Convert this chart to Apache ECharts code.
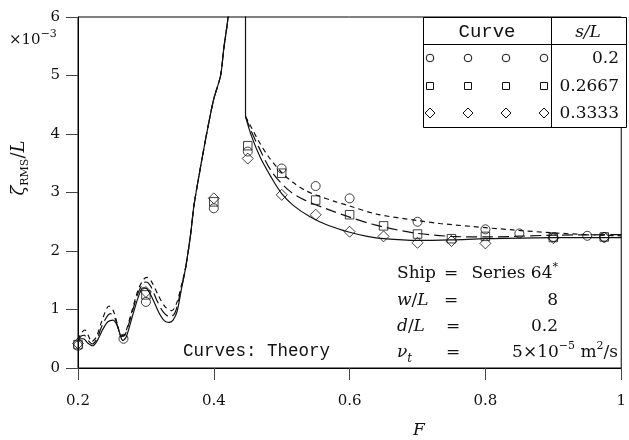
<!DOCTYPE html>
<html>
<head>
<meta charset="utf-8">
<script src="https://cdn.jsdelivr.net/npm/echarts@6/dist/echarts.min.js"></script>
<style>
html,body{margin:0;padding:0;background:#fff}
#chart{width:629px;height:440px}
</style>
</head>
<body>
<div id="chart"></div>
<script>
// Axis tick labels
const xTickLabels = ['0.2', '0.4', '0.6', '0.8', '1'];
const yTickLabels = ['0', '1', '2', '3', '4', '5', '6'];

// Channel spacing values listed in the key
const spacingLabels = ['0.2', '0.2667', '0.3333'];

// Theory, below the critical speed: [F, zeta_RMS/L x 1e3]
const thyLow020 = [[0.2,0.48],[0.205,0.6],[0.21,0.65],[0.215,0.56],[0.22,0.45],[0.227,0.53],[0.235,0.8],[0.2457,1.06],[0.252,0.98],[0.258,0.75],[0.2637,0.55],[0.269,0.58],[0.278,0.92],[0.289,1.35],[0.297,1.52],[0.3016,1.55],[0.308,1.48],[0.318,1.25],[0.328,1.05],[0.338,0.98],[0.345,1.1],[0.352,1.4],[0.3587,1.73]];
const thyLow027 = [[0.2,0.46],[0.205,0.55],[0.209,0.56],[0.215,0.47],[0.221,0.41],[0.228,0.5],[0.236,0.74],[0.2477,0.93],[0.254,0.86],[0.26,0.65],[0.2637,0.54],[0.269,0.56],[0.278,0.88],[0.288,1.27],[0.296,1.45],[0.3,1.47],[0.307,1.4],[0.316,1.16],[0.326,0.95],[0.336,0.87],[0.343,0.95],[0.35,1.25],[0.3587,1.73]];
const thyLow033 = [[0.2,0.45],[0.204,0.5],[0.208,0.5],[0.214,0.43],[0.2215,0.38],[0.228,0.46],[0.236,0.65],[0.244,0.79],[0.2516,0.82],[0.258,0.72],[0.263,0.53],[0.266,0.47],[0.271,0.53],[0.28,0.88],[0.289,1.22],[0.2955,1.37],[0.301,1.36],[0.31,1.18],[0.319,0.95],[0.327,0.81],[0.334,0.78],[0.34,0.82],[0.346,0.97],[0.352,1.33],[0.3587,1.73]];
// Common steep rise towards the resonance
const thyRise = [[0.366,2.3],[0.3708,2.78],[0.383,3.6],[0.3927,4.2],[0.4,4.6],[0.41,5.0],[0.4146,5.45],[0.421,6.0],[0.425,6.6]];
// Return from the resonance
const thyJump = [[0.4467,6.6],[0.4467,4.3]];
// Theory, above the critical speed
const thyHigh020 = [[0.4467,4.3],[0.455,4.12],[0.466,3.88],[0.48,3.62],[0.5,3.34],[0.517,3.17],[0.534,3.04],[0.55,2.96],[0.58,2.84],[0.6,2.77],[0.64,2.63],[0.7,2.52],[0.733,2.47],[0.78,2.42],[0.84,2.36],[0.9,2.31],[0.95,2.28],[1.0,2.26]];
const thyHigh027 = [[0.4467,4.3],[0.455,4.05],[0.466,3.78],[0.485,3.36],[0.51,3.04],[0.534,2.87],[0.573,2.69],[0.6,2.58],[0.636,2.45],[0.694,2.31],[0.75,2.25],[0.8,2.24],[0.9,2.27],[1.0,2.28]];
const thyHigh033 = [[0.4467,4.3],[0.455,3.98],[0.468,3.61],[0.485,3.25],[0.5,2.98],[0.517,2.78],[0.541,2.59],[0.568,2.44],[0.6,2.32],[0.626,2.25],[0.65,2.21],[0.7,2.18],[0.75,2.19],[0.8,2.21],[0.9,2.23],[1.0,2.23]];

// Measurements
const circF = [0.2, 0.267, 0.3, 0.4, 0.45, 0.5, 0.55, 0.6, 0.7, 0.8, 0.85, 0.9, 0.95, 0.975];
const circV = [0.38, 0.5, 1.13, 2.73, 3.70, 3.41, 3.11, 2.90, 2.50, 2.37, 2.30, 2.24, 2.26, 2.24];
const sqF = [0.2, 0.3, 0.4, 0.45, 0.5, 0.55, 0.6, 0.65, 0.7, 0.75, 0.8, 0.9, 0.975];
const sqV = [0.40, 1.25, 2.84, 3.80, 3.33, 2.87, 2.62, 2.43, 2.29, 2.21, 2.25, 2.23, 2.24];
const diaF = [0.2, 0.3, 0.4, 0.45, 0.5, 0.55, 0.6, 0.65, 0.7, 0.75, 0.8, 0.9, 0.975];
const diaV = [0.42, 1.30, 2.90, 3.58, 2.96, 2.62, 2.33, 2.25, 2.14, 2.17, 2.13, 2.22, 2.23];

const SERIF = "'DejaVu Serif', serif";
const MONO = "'Liberation Mono', monospace";
const INK = '#111';

const zip = (a, b) => a.map((v, i) => [v, b[i]]);

function curve(data, dash) {
  return {
    type: 'line', data: data, smooth: 0.3, symbol: 'none', silent: true,
    lineStyle: { color: INK, width: 1.2, type: dash }, z: 2
  };
}
function marks(data, symbol, size) {
  return {
    type: 'scatter', data: data, symbol: symbol, symbolSize: size, silent: true,
    itemStyle: { color: 'rgba(0,0,0,0)', borderColor: INK, borderWidth: 1 }, z: 3
  };
}

const shortDash = [5, 4];
const longDash = [11, 5];

// Key: table with marker rows and spacing values
const keyX = [430, 468, 506, 544];
const keyY = [58, 86, 113];
const keyGraphics = [
  { type: 'rect', shape: { x: 423.5, y: 17.5, width: 203, height: 110 }, style: { fill: '#fff', stroke: '#000', lineWidth: 1 }, z: 10 },
  { type: 'line', shape: { x1: 423.5, y1: 44.5, x2: 626.5, y2: 44.5 }, style: { stroke: '#000', lineWidth: 1 }, z: 11 },
  { type: 'line', shape: { x1: 551.5, y1: 17.5, x2: 551.5, y2: 127.5 }, style: { stroke: '#000', lineWidth: 1 }, z: 11 },
  { type: 'text', x: 487, y: 32, z: 11, style: { text: 'Curve', font: '19px ' + MONO, fill: INK, align: 'center', verticalAlign: 'middle' } },
  { type: 'text', x: 588, y: 33, z: 11, style: { text: 's/L', font: 'italic 17px ' + SERIF, fill: INK, align: 'center', verticalAlign: 'middle' } }
];
keyX.forEach(x => {
  keyGraphics.push({ type: 'circle', shape: { cx: x, cy: keyY[0], r: 3.8 }, style: { fill: 'none', stroke: INK, lineWidth: 1 }, z: 11 });
  keyGraphics.push({ type: 'rect', shape: { x: x - 3.5, y: keyY[1] - 3.5, width: 7, height: 7 }, style: { fill: 'none', stroke: INK, lineWidth: 1 }, z: 11 });
  keyGraphics.push({ type: 'polygon', shape: { points: [[x, keyY[2] - 5], [x + 5, keyY[2]], [x, keyY[2] + 5], [x - 5, keyY[2]]] }, style: { fill: 'none', stroke: INK, lineWidth: 1 }, z: 11 });
});
spacingLabels.forEach((s, i) => {
  keyGraphics.push({ type: 'text', x: 619, y: keyY[i] + 0.5, z: 11, style: { text: s, font: '17px ' + SERIF, fill: INK, align: 'right', verticalAlign: 'middle' } });
});

const richBase = {
  i: { fontStyle: 'italic', fontFamily: SERIF, fontSize: 17, lineHeight: 24, color: INK },
  r: { fontFamily: SERIF, fontSize: 17, lineHeight: 24, color: INK },
  sup: { fontFamily: SERIF, fontSize: 11, lineHeight: 12, verticalAlign: 'top', color: INK },
  sub: { fontStyle: 'italic', fontFamily: SERIF, fontSize: 12, lineHeight: 12, verticalAlign: 'bottom', color: INK }
};
function rt(x, y, text, align) {
  return { type: 'text', x: x, y: y, z: 5, style: { text: text, rich: richBase, align: align, verticalAlign: 'middle', font: '17px ' + SERIF, fill: INK } };
}

const notes = [
  rt(397, 274, '{r|Ship}', 'left'), rt(451, 274, '{r|=}', 'center'), rt(558, 274, '{r|Series 64}{sup|*}', 'right'),
  rt(397, 301, '{i|w}{r|/}{i|L}', 'left'), rt(451, 301, '{r|=}', 'center'), rt(558, 301, '{r|8}', 'right'),
  rt(397, 327, '{i|d}{r|/}{i|L}', 'left'), rt(453, 327, '{r|=}', 'center'), rt(558, 327, '{r|0.2}', 'right'),
  rt(397, 353, '{i|ν}{sub|t}', 'left'), rt(453, 353, '{r|=}', 'center'), rt(618, 353, '{r|5×10}{sup|−5}{r| m}{sup|2}{r|/s}', 'right'),
  { type: 'text', x: 183, y: 351, z: 5, style: { text: 'Curves: Theory', font: '17.5px ' + MONO, fill: INK, align: 'left', verticalAlign: 'middle' } },
  // y-axis title, reading upwards
  { type: 'text', x: 19, y: 168, rotation: Math.PI / 2, z: 5, style: {
      text: '{i|ζ}{s|RMS}{r|/}{i|L}', align: 'center', verticalAlign: 'middle', fill: INK,
      rich: {
        i: { fontStyle: 'italic', fontFamily: SERIF, fontSize: 18, lineHeight: 24, color: INK },
        r: { fontFamily: SERIF, fontSize: 18, lineHeight: 24, color: INK },
        s: { fontFamily: SERIF, fontSize: 11, lineHeight: 12, verticalAlign: 'bottom', color: INK }
      } } },
  // scale factor for the y values
  { type: 'text', x: 9, y: 40, z: 5, style: {
      text: '{r|×10}{sup|−3}', align: 'left', verticalAlign: 'middle', fill: INK,
      rich: {
        r: { fontFamily: SERIF, fontSize: 15, lineHeight: 22, color: INK },
        sup: { fontFamily: SERIF, fontSize: 11, lineHeight: 12, verticalAlign: 'top', color: INK }
      } } },
  // x-axis title
  { type: 'text', x: 419, y: 431, z: 5, style: { text: 'F', font: 'italic 17px ' + SERIF, fill: INK, align: 'center', verticalAlign: 'middle' } }
];

const chart = echarts.init(document.getElementById('chart'), null, { renderer: 'canvas' });
chart.setOption({
  animation: false,
  backgroundColor: '#fff',
  grid: { left: 78, right: 3, top: 17, bottom: 72, show: true, borderColor: '#000', borderWidth: 1, backgroundColor: 'transparent' },
  xAxis: {
    type: 'value', min: 0.2, max: 1, interval: 0.2,
    splitLine: { show: false },
    axisLine: { show: true, lineStyle: { color: '#000', width: 1 } },
    axisTick: { show: true, inside: false, length: 12, lineStyle: { color: '#444', width: 1 } },
    axisLabel: { margin: 26, color: INK, fontFamily: SERIF, fontSize: 15, formatter: (v, i) => xTickLabels[i] }
  },
  yAxis: {
    type: 'value', min: 0, max: 6, interval: 1,
    splitLine: { show: false },
    axisLine: { show: true, lineStyle: { color: '#000', width: 1 } },
    axisTick: { show: true, inside: false, length: 12, lineStyle: { color: '#444', width: 1 } },
    axisLabel: { margin: 18, color: INK, fontFamily: SERIF, fontSize: 15, formatter: (v, i) => yTickLabels[i] }
  },
  series: [
    curve(thyLow020.concat(thyRise), shortDash),
    curve(thyLow027.concat(thyRise), longDash),
    curve(thyLow033.concat(thyRise), 'solid'),
    Object.assign(curve(thyJump, 'solid'), { smooth: false }),
    curve(thyHigh020, shortDash),
    curve(thyHigh027, longDash),
    curve(thyHigh033, 'solid'),
    marks(zip(circF, circV), 'circle', 9),
    marks(zip(sqF, sqV), 'rect', 8.5),
    marks(zip(diaF, diaV), 'diamond', 11)
  ],
  graphic: keyGraphics.concat(notes)
});
</script>
</body>
</html>
